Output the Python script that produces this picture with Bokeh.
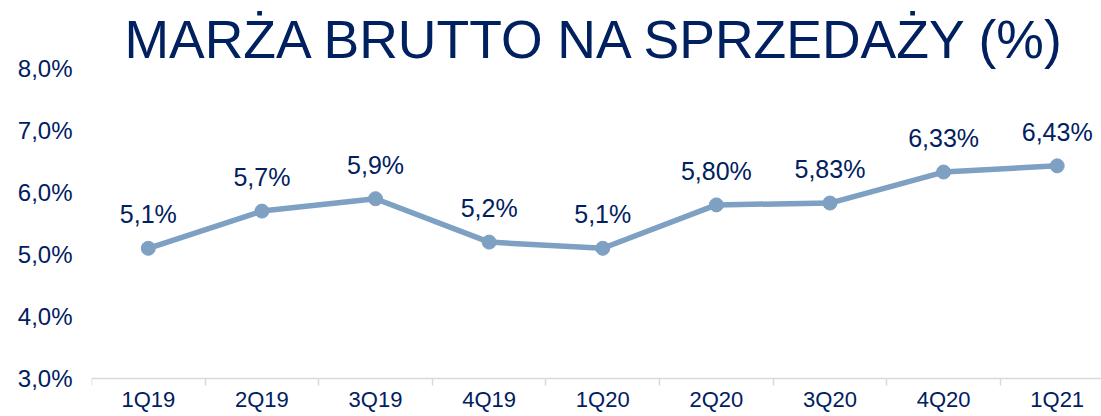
from bokeh.plotting import figure
from bokeh.models import ColumnDataSource, LabelSet, FixedTicker, Range1d
from bokeh.core.properties import value
from bokeh.embed import file_html
from bokeh.resources import INLINE

categories = ["1Q19", "2Q19", "3Q19", "4Q19", "1Q20", "2Q20", "3Q20", "4Q20", "1Q21"]
values = [5.1, 5.7, 5.9, 5.2, 5.1, 5.80, 5.83, 6.33, 6.43]
value_labels = ["5,1%", "5,7%", "5,9%", "5,2%", "5,1%", "5,80%", "5,83%", "6,33%", "6,43%"]
y_ticks = [3, 4, 5, 6, 7, 8]
y_tick_labels = ["3,0%", "4,0%", "5,0%", "6,0%", "7,0%", "8,0%"]
title_text = "MARŻA BRUTTO NA SPRZEDAŻY (%)"

NAVY = "#002060"
LINE = "#7ea0c2"
FONT = "Liberation Sans"

xs = list(range(len(categories)))
src = ColumnDataSource(dict(x=xs, y=values, lab=value_labels))

# frame extends below the 3,0% baseline so the category labels fit inside it
y_min = y_ticks[0] - 38 / 62.0

p = figure(width=1101, height=416, output_backend="svg", toolbar_location=None,
           x_range=Range1d(-0.5, 8.39), y_range=Range1d(y_min, y_ticks[-1]),
           min_border_left=91, min_border_right=0, min_border_top=68, min_border_bottom=0)
p.outline_line_color = None
p.grid.grid_line_color = None
p.background_fill_color = "white"
p.border_fill_color = "white"

p.title.text = title_text
p.title.text_font = FONT
p.title.text_font_size = "53.5px"
p.title.text_font_style = "normal"
p.title.text_color = NAVY
p.title.align = "center"
p.title.standoff = 0
p.title.offset = -4

p.line("x", "y", source=src, line_color=LINE, line_width=5.5)
p.scatter("x", "y", source=src, size=14, fill_color=LINE, line_color=LINE)

labels = LabelSet(x="x", y="y", text="lab", source=src, text_align="center",
                  text_baseline="middle", y_offset=34, text_font=value(FONT),
                  text_font_size=value("25px"), text_color=NAVY)
p.add_layout(labels)

# x axis, pinned at the 3,0% baseline
p.xaxis.fixed_location = y_ticks[0]
p.xaxis.ticker = FixedTicker(ticks=xs, minor_ticks=[i - 0.5 for i in range(len(categories) + 1)])
p.xaxis.major_label_overrides = {i: c for i, c in enumerate(categories)}
p.xaxis.major_label_text_font = FONT
p.xaxis.major_label_text_font_size = "22px"
p.xaxis.major_label_text_color = NAVY
p.xaxis.major_label_standoff = 1
p.xaxis.major_tick_line_color = None
p.xaxis.major_tick_out = 0
p.xaxis.minor_tick_line_color = "#d9d9d9"
p.xaxis.minor_tick_line_width = 1.5
p.xaxis.minor_tick_in = 0
p.xaxis.minor_tick_out = 7
p.xaxis.axis_line_color = "#d9d9d9"
p.xaxis.axis_line_width = 1.5

# y axis
p.yaxis.ticker = FixedTicker(ticks=y_ticks)
p.yaxis.major_label_overrides = {t: l for t, l in zip(y_ticks, y_tick_labels)}
p.yaxis.axis_line_color = None
p.yaxis.major_tick_line_color = None
p.yaxis.major_tick_out = 0
p.yaxis.minor_tick_line_color = None
p.yaxis.major_label_text_font = FONT
p.yaxis.major_label_text_font_size = "24px"
p.yaxis.major_label_text_color = NAVY
p.yaxis.major_label_standoff = 19

open("out.html", "w").write(file_html(p, INLINE))
